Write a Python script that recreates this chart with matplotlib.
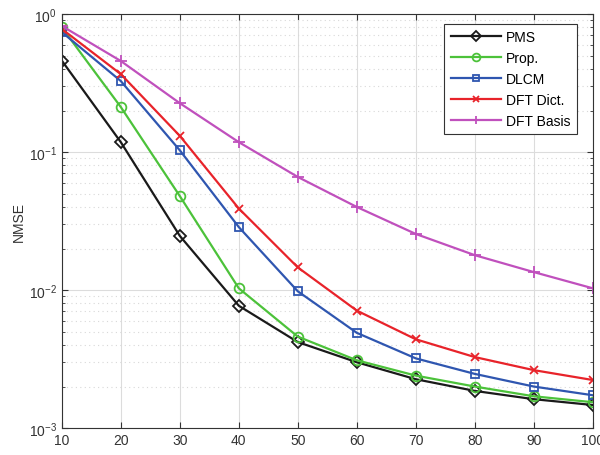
import matplotlib
matplotlib.use("Agg")
import matplotlib.pyplot as plt
from matplotlib.ticker import LogLocator, NullFormatter

plt.rcParams['font.family'] = ['Liberation Sans', 'DejaVu Sans']

snr = [10, 20, 30, 40, 50, 60, 70, 80, 90, 100]
pms = [0.46, 0.118, 0.0247, 0.0077, 0.0042, 0.0030, 0.00226, 0.00186, 0.00162, 0.00147]
prop = [0.80, 0.212, 0.048, 0.0103, 0.0046, 0.0031, 0.0024, 0.0020, 0.0017, 0.00154]
dlcm = [0.74, 0.327, 0.103, 0.0286, 0.0098, 0.0049, 0.0032, 0.00247, 0.0020, 0.00173]
dft_dict = [0.78, 0.367, 0.131, 0.039, 0.0146, 0.0071, 0.0044, 0.00327, 0.00263, 0.00223]
dft_basis = [0.82, 0.457, 0.226, 0.118, 0.066, 0.040, 0.0255, 0.0179, 0.0135, 0.0103]

series = [
    ("PMS", pms, "#1a1a1a", "D", 6),
    ("Prop.", prop, "#4cc23a", "o", 7),
    ("DLCM", dlcm, "#2f56b0", "s", 6),
    ("DFT Dict.", dft_dict, "#e8232a", "x", 6),
    ("DFT Basis", dft_basis, "#c050bd", "+", 8),
]

fig = plt.figure(figsize=(6, 4.56), dpi=100)
ax = fig.add_axes([0.103, 0.059, 0.885, 0.908])

for name, vals, col, mk, ms in series:
    ax.semilogy(snr, vals, color=col, marker=mk, markersize=ms, linewidth=1.6,
                markerfacecolor="none", markeredgewidth=1.3, label=name)

ax.set_xlim(10, 100)
ax.set_ylim(1e-3, 1)
ax.set_xticks([10, 20, 30, 40, 50, 60, 70, 80, 90, 100])
ax.yaxis.set_major_locator(LogLocator(base=10, numticks=10))
ax.yaxis.set_minor_locator(LogLocator(base=10, subs=range(2, 10), numticks=10))
ax.yaxis.set_minor_formatter(NullFormatter())
ax.set_ylabel("NMSE", fontsize=10, color="#333333", labelpad=2)

ax.grid(True, which="major", color="#dcdcdc", linewidth=0.8, linestyle="-")
ax.grid(True, which="minor", axis="y", color="#d8d8d8", linewidth=0.8, linestyle=(0, (1, 3)))
ax.set_axisbelow(True)
ax.tick_params(which="both", direction="in", top=True, right=True, labelsize=10,
               labelcolor="#333333", color="#333333")
ax.tick_params(which="major", length=4)
ax.tick_params(which="minor", length=2)
for sp in ax.spines.values():
    sp.set_color("#333333")
    sp.set_linewidth(0.8)

leg = ax.legend(loc="upper right", bbox_to_anchor=(0.97, 0.976), borderaxespad=0,
                fontsize=10, fancybox=False, framealpha=1, edgecolor="#333333",
                markerscale=0.8, handlelength=3.6, labelspacing=0.5, borderpad=0.45,
                handletextpad=0.4)
leg.get_frame().set_linewidth(0.8)

fig.savefig("out.png", dpi=100)
